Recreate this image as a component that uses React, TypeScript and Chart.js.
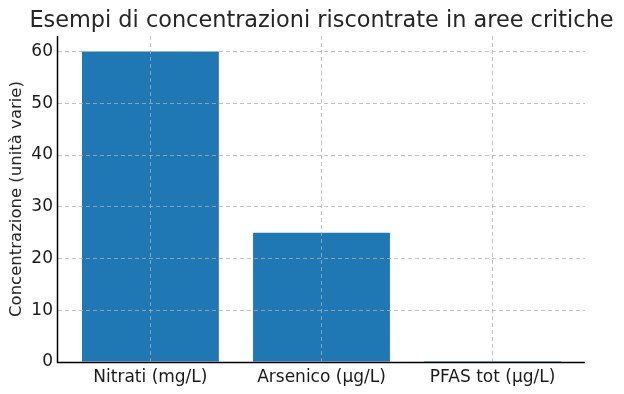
import React, { useEffect, useRef } from "react";
import { Chart, registerables } from "chart.js";

Chart.register(...registerables);

const TITLE = "Esempi di concentrazioni riscontrate in aree critiche";
const Y_LABEL = "Concentrazione (unità varie)";
const categories = ["Nitrati (mg/L)", "Arsenico (µg/L)", "PFAS tot (µg/L)"];
const values = [60, 25, 0.2];
const yTicks = [0, 10, 20, 30, 40, 50, 60];

const FONT = "'DejaVu Sans', sans-serif";
const INK = "#1a1a1a";

export default function App() {
  const ref = useRef<HTMLCanvasElement | null>(null);

  useEffect(() => {
    document.body.style.margin = "0";
    const canvas = ref.current;
    if (!canvas) return;

    const textPlugin = {
      id: "texts",
      afterDraw(chart: any) {
        const { ctx, chartArea } = chart;
        ctx.save();
        // spines
        ctx.strokeStyle = "#000";
        ctx.lineWidth = 1.5;
        ctx.beginPath();
        ctx.moveTo(chartArea.left - 0.5, chartArea.top);
        ctx.lineTo(chartArea.left - 0.5, chartArea.bottom + 0.5);
        ctx.lineTo(chartArea.right, chartArea.bottom + 0.5);
        ctx.stroke();
        // texts
        ctx.fillStyle = "#262626";
        ctx.font = `22.4px ${FONT}`;
        ctx.textAlign = "center";
        ctx.textBaseline = "middle";
        ctx.fillText(TITLE, (chartArea.left + chartArea.right) / 2, 21);
        ctx.font = `16.5px ${FONT}`;
        ctx.translate(17, (chartArea.top + chartArea.bottom) / 2);
        ctx.rotate(-Math.PI / 2);
        ctx.fillText(Y_LABEL, 0, 0);
        ctx.restore();
      },
    };

    const gridOpts = {
      z: 1,
      offset: false,
      color: "rgba(176,176,176,0.75)",
      drawTicks: false,
    };

    const chart = new Chart(canvas, {
      type: "bar",
      data: {
        datasets: [
          {
            data: categories.map((_, i) => ({ x: i, y: values[i] })),
            backgroundColor: "#1f77b4",
            borderWidth: 0,
            barPercentage: 0.8,
            categoryPercentage: 1,
          },
        ],
      },
      options: {
        responsive: false,
        animation: false,
        layout: { padding: { top: 36, right: 39, left: 0, bottom: 0 } },
        plugins: {
          legend: { display: false },
          tooltip: { enabled: false },
          title: { display: false },
        },
        scales: {
          x: {
            type: "linear",
            offset: false,
            min: -0.54,
            max: 2.54,
            afterBuildTicks: (s: any) => {
              s.ticks = categories.map((_, i) => ({ value: i }));
            },
            afterFit: (s: any) => {
              s.height = 32;
            },
            ticks: {
              callback: (v: any) => categories[v as number] ?? "",
              color: INK,
              font: { family: FONT, size: 17 },
              padding: 5,
              maxRotation: 0,
              autoSkip: false,
            },
            grid: gridOpts,
            border: { display: false, dash: [4, 3] },
          },
          y: {
            min: 0,
            max: 63,
            afterBuildTicks: (s: any) => {
              s.ticks = yTicks.map((v) => ({ value: v }));
            },
            afterFit: (s: any) => {
              s.width = 58;
            },
            ticks: {
              color: INK,
              font: { family: FONT, size: 17 },
              padding: 5,
            },
            grid: gridOpts,
            border: { display: false, dash: [4, 3] },
          },
        },
      },
      plugins: [textPlugin],
    } as any);

    return () => chart.destroy();
  }, []);

  return (
    <div style={{ position: "absolute", left: 0, top: 0, width: 624, height: 394, background: "#fff" }}>
      <canvas ref={ref} width={624} height={394} />
    </div>
  );
}
